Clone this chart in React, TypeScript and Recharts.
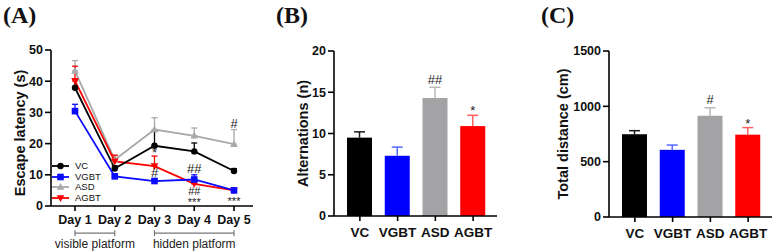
import React from "react";
import {
  Bar,
  BarChart,
  ErrorBar,
  LabelList,
  Legend,
  Line,
  LineChart,
  ReferenceLine,
  XAxis,
  YAxis,
} from "recharts";

// Morris water maze: escape latency per training day
const days = ["Day 1", "Day 2", "Day 3", "Day 4", "Day 5"];
const vcLatency = [37.9, 12, 19.3, 17.5, 11.2];
const vcLatencyErr = [2.7, 0.9, 4.6, 2.7, 0.8];
const vgbtLatency = [30.4, 9.5, 8.0, 8.5, 5.0];
const vgbtLatencyErr = [2.2, 0.6, 0.8, 1.5, 0.4];
const asdLatency = [43.3, 14.8, 24.5, 22.5, 19.8];
const asdLatencyErr = [3.3, 1.4, 3.8, 2.5, 4.7];
const agbtLatency = [40.1, 14.3, 12.8, 7.1, 5.0];
const agbtLatencyErr = [4.7, 2.0, 3.2, 0.7, 0.4];

const vgbtMarksAbove = ["", "", "#", "##", ""];
const asdMarksAbove = ["", "", "", "", "#"];
const agbtMarksAbove = ["", "", "*", "", ""];
const agbtMarksBelow = ["", "", "", "##\n***", "***"];

const phaseLabels = ["visible platform", "hidden platform"];
const phaseStart = ["Day 1", "Day 3"];
const phaseEnd = ["Day 2", "Day 5"];

// Y-maze and open field
const groups = ["VC", "VGBT", "ASD", "AGBT"];
const alternations = [9.5, 7.3, 14.3, 10.9];
const alternationsErr = [0.7, 1.05, 1.3, 1.3];
const alternationsMarks = ["", "", "##", "*"];
const distance = [748, 607, 915, 744];
const distanceErr = [32, 43, 72, 64];
const distanceMarks = ["", "", "#", "*"];

const FONT = "'Liberation Sans', Arial, sans-serif";
const BAR_COLORS = ["#000000", "#0000ff", "#a3a3a6", "#ff0000"];
const BAR_ERR_COLORS = ["#1a1a1a", "#5566ff", "#b9b9b9", "#ff6060"];
const PHASE_Y = -8.7;

const SERIES = [
  { key: "vc", name: "VC", color: "#000000", marker: "circle" },
  { key: "vgbt", name: "VGBT", color: "#0a0aff", marker: "square" },
  { key: "asd", name: "ASD", color: "#a9a9a9", marker: "up" },
  { key: "agbt", name: "AGBT", color: "#ff0000", marker: "down" },
];

const latencyRows = days.map((day, i) => ({
  day,
  vc: vcLatency[i],
  vcErr: [0, vcLatencyErr[i]],
  vgbt: vgbtLatency[i],
  vgbtErr: [0, vgbtLatencyErr[i]],
  asd: asdLatency[i],
  asdErr: [0, asdLatencyErr[i]],
  agbt: agbtLatency[i],
  agbtErr: [0, agbtLatencyErr[i]],
  vgbtTop: vgbtLatency[i] + vgbtLatencyErr[i],
  asdTop: asdLatency[i] + asdLatencyErr[i],
  agbtTop: agbtLatency[i] + agbtLatencyErr[i],
  vgbtMark: vgbtMarksAbove[i],
  asdMark: asdMarksAbove[i],
  agbtMark: agbtMarksAbove[i],
  agbtMarkBelow: agbtMarksBelow[i],
}));

const tickStyle = { fontFamily: FONT, fontWeight: 700, fontSize: 12.5, fill: "#111" };
const axisStroke = { stroke: "#000", strokeWidth: 1.6 };

const Marker = ({ cx, cy, type, color }: any) => {
  if (cx == null || cy == null) return null;
  if (type === "circle") return <circle cx={cx} cy={cy} r={3.2} fill={color} />;
  if (type === "square")
    return <rect x={cx - 3.3} y={cy - 3.3} width={6.6} height={6.6} fill={color} />;
  if (type === "up")
    return <path d={`M${cx},${cy - 4} L${cx + 3.8},${cy + 2.8} L${cx - 3.8},${cy + 2.8}Z`} fill={color} />;
  return <path d={`M${cx},${cy + 4} L${cx + 3.8},${cy - 2.8} L${cx - 3.8},${cy - 2.8}Z`} fill={color} />;
};

const MarkText = ({ x, y, value, below }: any) => {
  if (!value) return null;
  const lines = String(value).split("\n");
  return (
    <g>
      {lines.map((t, k) => {
        const star = t.startsWith("*");
        const base = below ? y + 11 + k * 8 + (star ? 3.5 : 0) : y - 2 + (star ? 3 : 0);
        return (
          <text
            key={k}
            x={x}
            y={base}
            textAnchor="middle"
            style={{ fontFamily: FONT, fontSize: below ? 11 : 13, fill: "#222" }}
          >
            {t}
          </text>
        );
      })}
    </g>
  );
};

const AxisTitle = ({ viewBox, text, dx, dy = 0 }: any) => {
  const cx = viewBox.x + dx;
  const cy = viewBox.y + viewBox.height / 2 + dy;
  return (
    <text
      x={cx}
      y={cy}
      transform={`rotate(-90 ${cx} ${cy})`}
      textAnchor="middle"
      dominantBaseline="central"
      style={{ fontFamily: FONT, fontWeight: 700, fontSize: 14.5, fill: "#111" }}
    >
      {text}
    </text>
  );
};

const PanelTitle = ({ text, left }: { text: string; left: number }) => (
  <svg style={{ position: "absolute", left, top: 0 }} width={50} height={32}>
    <text x={0} y={22.5} style={{ fontFamily: "'Liberation Serif', 'Times New Roman', serif", fontWeight: 700, fontSize: 24, fill: "#111" }}>
      {text}
    </text>
  </svg>
);

const LatencyLegend = () => (
  <div style={{ fontFamily: FONT, fontSize: 9.5, color: "#111" }}>
    {SERIES.map((s) => (
      <div key={s.key} style={{ display: "flex", alignItems: "center", height: 10.6 }}>
        <svg width={23} height={10}>
          <line x1={0} x2={17} y1={5} y2={5} stroke={s.color} strokeWidth={1.8} />
          <Marker cx={8.5} cy={5} type={s.marker} color={s.color} />
        </svg>
        <span style={{ lineHeight: "10px" }}>{s.name}</span>
      </div>
    ))}
  </div>
);

const PhaseBracket = (label: string) => (props: any) => {
  const { x1, x2, y1 } = props;
  return (
    <g>
      <line x1={x1} x2={x2} y1={y1} y2={y1} stroke="#777" strokeWidth={1.2} />
      <line x1={x1} x2={x1} y1={y1 - 3} y2={y1 + 3} stroke="#777" strokeWidth={1.2} />
      <line x1={x2} x2={x2} y1={y1 - 3} y2={y1 + 3} stroke="#777" strokeWidth={1.2} />
      <text
        x={(x1 + x2) / 2}
        y={y1 + 15}
        textAnchor="middle"
        style={{ fontFamily: FONT, fontSize: 12, fill: "#222" }}
      >
        {label}
      </text>
    </g>
  );
};

// draw order keeps the blue and black traces on top
const DRAW_ORDER = ["asd", "agbt", "vc", "vgbt"];

const LatencyPanel = () => (
  <div style={{ position: "absolute", left: 0, top: 0 }}>
    <LineChart width={260} height={252} data={latencyRows} margin={{ top: 50, right: 7, bottom: 16, left: 0 }}>
      <XAxis
        dataKey="day"
        height={30}
        padding={{ left: 24, right: 19 }}
        tick={tickStyle}
        tickSize={5}
        tickMargin={4}
        axisLine={axisStroke}
        tickLine={axisStroke}
      />
      <YAxis
        domain={[0, 50]}
        ticks={[0, 10, 20, 30, 40, 50]}
        width={51}
        tick={tickStyle}
        tickSize={6}
        tickMargin={2}
        axisLine={axisStroke}
        tickLine={axisStroke}
        label={{ content: (p: any) => <AxisTitle viewBox={p.viewBox} text="Escape latency (s)" dx={20} dy={5} /> }}
      />
      {DRAW_ORDER.map((key) => {
        const s = SERIES.find((d) => d.key === key)!;
        return (
          <Line
            key={key}
            dataKey={key}
            name={s.name}
            stroke={s.color}
            strokeWidth={1.8}
            isAnimationActive={false}
            dot={(p: any) => <Marker key={`${key}-${p.index}`} cx={p.cx} cy={p.cy} type={s.marker} color={s.color} />}
            activeDot={false}
          >
            <ErrorBar dataKey={`${key}Err`} direction="y" width={3} stroke={s.color} strokeWidth={1.3} />
          </Line>
        );
      })}
      {["vgbt", "asd", "agbt"].map((key) => (
        <Line
          key={`${key}-top`}
          dataKey={`${key}Top`}
          stroke="none"
          dot={false}
          activeDot={false}
          legendType="none"
          isAnimationActive={false}
        >
          <LabelList dataKey={`${key}Mark`} content={(p: any) => <MarkText {...p} />} />
        </Line>
      ))}
      <Line dataKey="agbt" stroke="none" dot={false} activeDot={false} legendType="none" isAnimationActive={false}>
        <LabelList dataKey="agbtMarkBelow" content={(p: any) => <MarkText {...p} below />} />
      </Line>
      {phaseLabels.map((label, i) => (
        <ReferenceLine
          key={label}
          segment={[
            { x: phaseStart[i], y: PHASE_Y },
            { x: phaseEnd[i], y: PHASE_Y },
          ]}
          ifOverflow="visible"
          shape={PhaseBracket(label)}
        />
      ))}
      <Legend
        layout="vertical"
        align="center"
        verticalAlign="middle"
        wrapperStyle={{ left: 52, top: 161, width: 70 }}
        content={() => <LatencyLegend />}
      />
    </LineChart>
  </div>
);

const BarWithError = (props: any) => {
  const { x, y, width, height, payload, index } = props;
  const perUnit = payload.value > 0 ? height / payload.value : 0;
  const top = y - payload.err * perUnit;
  const cx = x + width / 2;
  const errColor = BAR_ERR_COLORS[index];
  const star = String(payload.mark).startsWith("*");
  return (
    <g>
      <rect x={x} y={y} width={width} height={height} fill={BAR_COLORS[index]} />
      <line x1={cx} x2={cx} y1={y} y2={top} stroke={errColor} strokeWidth={1.5} />
      <line x1={cx - 5.5} x2={cx + 5.5} y1={top} y2={top} stroke={errColor} strokeWidth={1.5} />
      {payload.mark && (
        <text
          x={cx}
          y={top - (star ? 0 : 3.5)}
          textAnchor="middle"
          style={{ fontFamily: FONT, fontSize: 13, fill: "#222" }}
        >
          {payload.mark}
        </text>
      )}
    </g>
  );
};

type BarPanelProps = {
  values: number[];
  errors: number[];
  marks: string[];
  left: number;
  width: number;
  axisWidth: number;
  bottom: number;
  domain: [number, number];
  ticks: number[];
  yLabel: string;
  titleDx: number;
};

const BarPanel = (props: BarPanelProps) => {
  const rows = groups.map((group, i) => ({
    group,
    value: props.values[i],
    err: props.errors[i],
    mark: props.marks[i],
  }));
  const right = props.width - props.axisWidth - 163;
  return (
    <div style={{ position: "absolute", left: props.left, top: 0 }}>
      <BarChart
        width={props.width}
        height={252}
        data={rows}
        margin={{ top: 51, right, bottom: props.bottom, left: 0 }}
      >
        <XAxis
          dataKey="group"
          height={30}
          padding={{ left: 7, right: 5 }}
          tick={{ ...tickStyle, fontSize: 13.5 }}
          tickSize={5}
          tickMargin={6}
          axisLine={axisStroke}
          tickLine={axisStroke}
        />
        <YAxis
          domain={props.domain}
          ticks={props.ticks}
          width={props.axisWidth}
          tick={tickStyle}
          tickSize={6}
          tickMargin={2}
          axisLine={axisStroke}
          tickLine={axisStroke}
          label={{ content: (p: any) => <AxisTitle viewBox={p.viewBox} text={props.yLabel} dx={props.titleDx} /> }}
        />
        <Bar dataKey="value" barSize={25} isAnimationActive={false} shape={(p: any) => <BarWithError {...p} />} />
      </BarChart>
    </div>
  );
};

export default function App() {
  return (
    <div style={{ position: "absolute", left: 0, top: 0, width: 776, height: 252, background: "#fff" }}>
      <LatencyPanel />
      <BarPanel
        values={alternations}
        errors={alternationsErr}
        marks={alternationsMarks}
        left={260}
        width={256}
        axisWidth={74}
        bottom={6}
        domain={[0, 20]}
        ticks={[0, 5, 10, 15, 20]}
        yLabel="Alternations (n)"
        titleDx={43}
      />
      <BarPanel
        values={distance}
        errors={distanceErr}
        marks={distanceMarks}
        left={516}
        width={260}
        axisWidth={93}
        bottom={5}
        domain={[0, 1500]}
        ticks={[0, 500, 1000, 1500]}
        yLabel="Total distance (cm)"
        titleDx={47}
      />
      <PanelTitle text="(A)" left={3} />
      <PanelTitle text="(B)" left={276} />
      <PanelTitle text="(C)" left={541} />
    </div>
  );
}
